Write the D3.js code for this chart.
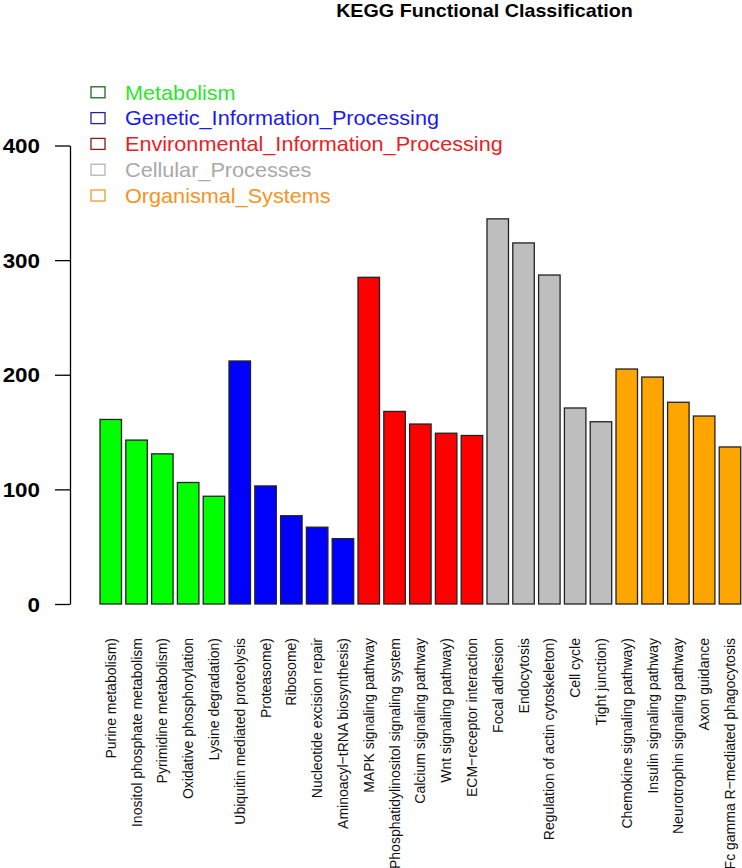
<!DOCTYPE html>
<html>
<head>
<meta charset="utf-8">
<script src="https://cdn.jsdelivr.net/npm/d3@7/dist/d3.min.js"></script>
<style>
  html, body { margin: 0; padding: 0; background: #fff; }
  svg { display: block; }
</style>
</head>
<body>
<script>
const categories = [
  "Purine metabolism)", "Inositol phosphate metabolism", "Pyrimidine metabolism)",
  "Oxidative phosphorylation", "Lysine degradation)",
  "Ubiquitin mediated proteolysis", "Proteasome)", "Ribosome)",
  "Nucleotide excision repair", "Aminoacyl\u2212tRNA biosynthesis)",
  "MAPK signaling pathway", "Phosphatidylinositol signaling system",
  "Calcium signaling pathway", "Wnt signaling pathway)", "ECM\u2212receptor interaction",
  "Focal adhesion", "Endocytosis", "Regulation of actin cytoskeleton)",
  "Cell cycle", "Tight junction)",
  "Chemokine signaling pathway)", "Insulin signaling pathway",
  "Neurotrophin signaling pathway", "Axon guidance", "Fc gamma R\u2212mediated phagocytosis"
];
const values = [
  161, 143, 131, 106, 94,
  212, 103, 77, 67, 57,
  285, 168, 157, 149, 147,
  336, 315, 287, 171, 159,
  205, 198, 176, 164, 137
];
const groupOfBar = [
  0, 0, 0, 0, 0,
  1, 1, 1, 1, 1,
  2, 2, 2, 2, 2,
  3, 3, 3, 3, 3,
  4, 4, 4, 4, 4
];
const groupNames = ["Metabolism", "Genetic_Information_Processing",
  "Environmental_Information_Processing", "Cellular_Processes", "Organismal_Systems"];
const barColors = ["#00FF00", "#0000FF", "#FF0000", "#BEBEBE", "#FFA500"];
const legendBorderColors = ["#1d6b1d", "#25258a", "#8b1a1a", "#b4b4b4", "#f39a2a"];
const legendTextColors = ["#2ae62a", "#1a1aee", "#ec1c24", "#a9a9a9", "#f7931e"];
const yTicks = [0, 100, 200, 300, 400];
const titleText = "KEGG Functional Classification";

const W = 742, H = 868;
const svg = d3.select("body").append("svg").attr("width", W).attr("height", H);

const x = d3.scaleBand().domain(categories).range([100, 740.7]).paddingInner(0.167).paddingOuter(0);
const y = d3.scaleLinear().domain([0, 400]).range([604, 145.5]);

// Title
svg.append("text")
  .attr("transform", "translate(484.5,17) scale(1.06,1)")
  .attr("text-anchor", "middle")
  .style("font-family", "'Liberation Sans', Arial, sans-serif")
  .style("font-weight", "bold")
  .style("font-size", "18.6px")
  .attr("fill", "#000")
  .text(titleText);

// Bars
svg.append("g").selectAll("rect").data(values).join("rect")
  .attr("x", (d, i) => x(categories[i]))
  .attr("y", d => y(d))
  .attr("width", x.bandwidth())
  .attr("height", d => y(0) - y(d))
  .attr("fill", (d, i) => barColors[groupOfBar[i]])
  .attr("stroke", "#222")
  .attr("stroke-width", 1.3);

// Y axis
const yAxis = d3.axisLeft(y).tickValues(yTicks).tickSize(15).tickSizeOuter(0).tickFormat(d3.format("d"));
const gy = svg.append("g").attr("transform", "translate(70,0)").call(yAxis);
gy.select(".domain").attr("stroke", "#000").attr("stroke-width", 1.3);
gy.selectAll(".tick line").attr("stroke", "#000").attr("stroke-width", 1.3);
gy.selectAll(".tick text")
  .attr("x", null).attr("dy", null)
  .attr("transform", "translate(-30,7) scale(1.12,1)")
  .attr("text-anchor", "end")
  .style("font-family", "'Liberation Sans', Arial, sans-serif")
  .style("font-size", "20px")
  .style("font-weight", "bold")
  .attr("fill", "#000");

// X labels (rotated)
svg.append("g").selectAll("text").data(categories).join("text")
  .attr("transform", d => `translate(${x(d) + x.bandwidth() / 2 + 5},638) scale(1.08,1) rotate(-90)`)
  .attr("text-anchor", "end")
  .style("font-family", "'Liberation Sans', Arial, sans-serif")
  .style("font-size", "14px")
  .attr("fill", "#111")
  .text(d => d);

// Legend
const leg = svg.append("g");
groupNames.forEach((name, i) => {
  const cy = 92.3 + i * 25.8;
  leg.append("rect")
    .attr("x", 91).attr("y", cy - 5.5).attr("width", 14).attr("height", 11)
    .attr("fill", "none").attr("stroke", legendBorderColors[i]).attr("stroke-width", 1.3);
  leg.append("text")
    .attr("transform", `translate(125,${cy + 7.2}) scale(1.083,1)`)
    .style("font-family", "'Liberation Sans', Arial, sans-serif")
    .style("font-size", "20px")
    .attr("fill", legendTextColors[i])
    .text(name);
});
</script>
</body>
</html>
